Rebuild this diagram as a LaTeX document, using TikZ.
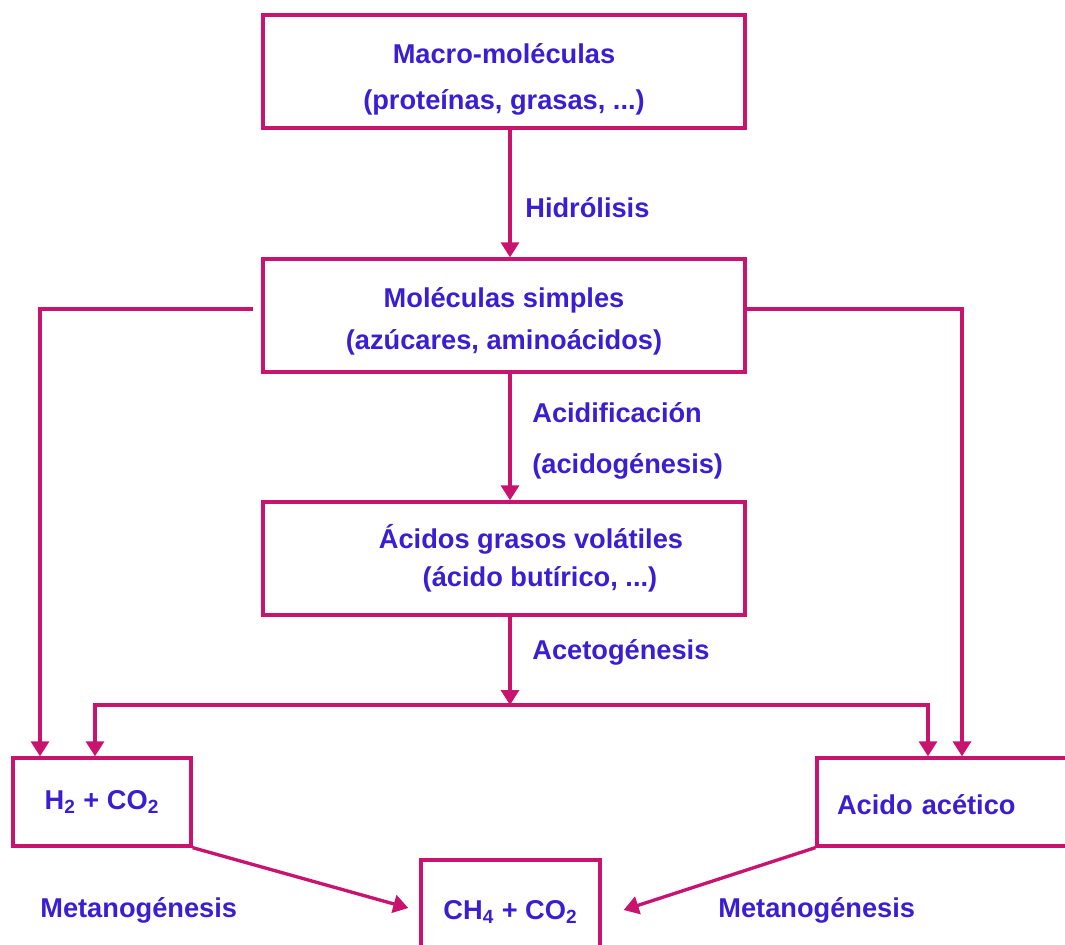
\documentclass[tikz,border=0pt]{standalone}
\usepackage{fontspec}
\setmainfont{Liberation Sans}
\usetikzlibrary{arrows.meta}
\definecolor{linecol}{RGB}{200,20,110}
\definecolor{txtcol}{RGB}{60,30,210}
\tikzset{
  box/.style={draw=linecol,line width=1.9pt,text=txtcol,font=\bfseries\fontsize{15.5}{20}\selectfont,align=center,inner sep=0pt},
  stage/.style={text=txtcol,font=\bfseries\fontsize{15.5}{18}\selectfont,anchor=west,inner sep=0pt},
  arr/.style={draw=linecol,line width=1.9pt,-{Triangle[width=0.36cm,length=0.3cm]}},
  arrs/.style={draw=linecol,line width=1.9pt,{Triangle[width=0.36cm,length=0.3cm]}-{Triangle[width=0.36cm,length=0.3cm]}}
}

\begin{document}
\begin{tikzpicture}[x=0.02cm,y=-0.02cm]
  \useasboundingbox (0,0) rectangle (1065,945);
  \clip (0,0) rectangle (1065,945);
  \fill[white] (0,0) rectangle (1065,945);

  \node[box,minimum width=9.64cm,minimum height=2.26cm] (macro) at (504,71.5)
    {\rule{0pt}{0.7cm}Macro-moléculas\\[0.22cm](proteínas, grasas, ...)};
  \node[box,minimum width=9.64cm,minimum height=2.26cm] (simples) at (504,315.5)
    {\rule{0pt}{0.64cm}Moléculas simples\\[0.14cm](azúcares, aminoácidos)};
  \node[box,minimum width=9.64cm,minimum height=2.26cm] (acidos) at (504,558.5)
    {\hspace*{1.08cm}Ácidos grasos volátiles\\[0.06cm]\hspace*{1.44cm}(ácido butírico, ...)};
  \node[box,minimum width=3.56cm,minimum height=1.76cm] (htwo) at (102,802)
    {H\textsubscript{2} + CO\textsubscript{2}};
  \node[box,text width=4.86cm,inner xsep=0.4cm,align=left,minimum height=1.76cm] (acetico) at (958.5,802)
    {\rule{0pt}{0.5cm}Acido acético};
  \node[box,minimum width=3.58cm,minimum height=2.08cm] (chfour) at (510.5,912)
    {CH\textsubscript{4} + CO\textsubscript{2}};

  \node[stage] (hidro) at (525,208) {Hidrólisis};
  \node[stage] (acidif) at (532,413) {Acidificación};
  \node[stage] (acidog) at (532,466) {(acidogénesis)};
  \node[stage] (aceto) at (532,652) {Acetogénesis};
  \node[stage] (metaL) at (40,910) {Metanogénesis};
  \node[stage] (metaR) at (718,910) {Metanogénesis};

  \coordinate (spine) at (510,0);
  \coordinate (tap) at (0,309);
  \coordinate (laneL) at (40,0);
  \coordinate (laneR) at (962,0);
  \coordinate (splitL) at (95,0);
  \coordinate (splitR) at (928,0);
  \coordinate (join) at (510,705);

  \draw[arr] (macro.south -| spine) -- (simples.north -| spine);
  \draw[arr] (simples.south -| spine) -- (acidos.north -| spine);
  \draw[arr] (acidos.south -| spine) -- (join);
  \draw[arrs] (htwo.north -| splitL) |- (join) -| (acetico.north -| splitR);
  \draw[arr] ([xshift=-0.16cm]simples.west |- tap) -| (htwo.north -| laneL);
  \draw[arr] (simples.east |- tap) -| (acetico.north -| laneR);
  \draw[arr] (htwo.south east) -- ([xshift=-0.22cm,yshift=0.08cm]chfour.west);
  \draw[arr] (acetico.south west) -- ([xshift=0.44cm,yshift=0.04cm]chfour.east);
\end{tikzpicture}
\end{document}
